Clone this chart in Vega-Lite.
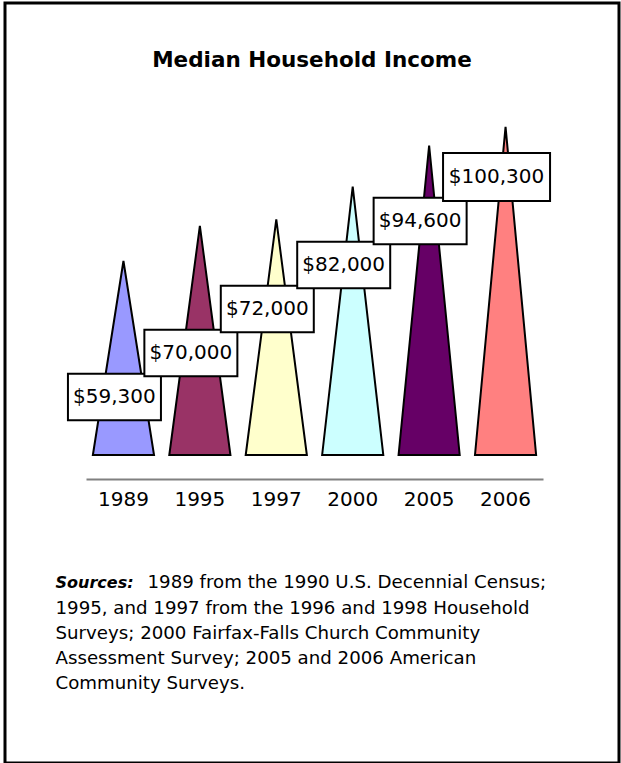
{
  "$schema": "https://vega.github.io/schema/vega-lite/v6.json",
  "width": 614,
  "height": 760,
  "autosize": "none",
  "padding": {"left": 5, "top": 3, "right": 2, "bottom": 0},
  "background": "white",
  "config": {"view": {"stroke": "black", "strokeWidth": 3}, "font": "DejaVu Sans"},
  "title": {"text": "Median Household Income", "font": "DejaVu Sans", "fontSize": 21.5, "fontWeight": "bold", "color": "black", "anchor": "middle", "frame": "group", "baseline": "alphabetic", "offset": -85},
  "data": {"values": [
    {"year": "1989", "income": 59300},
    {"year": "1995", "income": 70000},
    {"year": "1997", "income": 72000},
    {"year": "2000", "income": 82000},
    {"year": "2005", "income": 94600},
    {"year": "2006", "income": 100300}
  ]},
  "resolve": {"scale": {"y": "independent"}, "axis": {"x": "independent", "y": "independent"}},
  "layer": [
    {
      "transform": [
        {"fold": ["income"], "as": ["part", "amount"]},
        {"impute": "amount", "key": "part", "keyvals": ["base", "income", "rim"], "groupby": ["year"], "value": 0}
      ],
      "mark": {"type": "line", "interpolate": "linear-closed", "stroke": "black", "strokeWidth": 2, "strokeJoin": "miter", "opacity": 1},
      "encoding": {
        "x": {"field": "year", "type": "nominal", "bandPosition": 0,
          "scale": {"type": "band", "range": [81, 538], "paddingInner": 0.2, "paddingOuter": 0.09},
          "axis": {"title": ["1995, and 1997 from the 1996 and 1998 Household", "Surveys; 2000 Fairfax-Falls Church Community", "Assessment Survey; 2005 and 2006 American", "Community Surveys."],
            "titleFont": "DejaVu Sans", "titleFontSize": 18.2, "titleFontWeight": "normal", "titleColor": "black", "titleAnchor": "start", "titleAlign": "left", "titleBaseline": "alphabetic", "titleX": 50, "titleY": 134, "titleLineHeight": 25,
            "orient": "bottom", "offset": -284, "domainColor": "#808080", "domainWidth": 2, "ticks": false, "grid": false,
            "labelFont": "DejaVu Sans", "labelFontSize": 20, "labelColor": "black", "labelPadding": 10, "labelAngle": 0}},
        "xOffset": {"field": "part", "type": "nominal", "scale": {"type": "point", "domain": ["base", "income", "rim"], "padding": 0}},
        "y": {"field": "amount", "type": "quantitative", "scale": {"domain": [0, 103000], "range": [452, 115], "nice": false},
          "axis": {"title": "Sources:", "titleFont": "DejaVu Sans", "titleFontSize": 16, "titleFontWeight": "bold", "titleFontStyle": "italic", "titleColor": "black", "titleAngle": 0, "titleAlign": "left", "titleBaseline": "alphabetic", "titleX": 0, "titleY": 584, "offset": -50, "labels": false, "ticks": false, "domain": false, "grid": false}},
        "fill": {"field": "year", "type": "nominal", "scale": {"domain": ["1989", "1995", "1997", "2000", "2005", "2006"], "range": ["#9999ff", "#993366", "#ffffcc", "#ccffff", "#660066", "#ff8080"]}, "legend": null},
        "order": {"field": "part", "type": "ordinal", "sort": "ascending"}
      }
    },
    {
      "mark": {"type": "point", "filled": true, "fill": "white", "stroke": "black", "strokeWidth": 2, "opacity": 1, "xOffset": -9},
      "encoding": {
        "x": {"field": "year", "type": "nominal",
          "scale": {"type": "band", "range": [81, 538], "paddingInner": 0.2, "paddingOuter": 0.09},
          "axis": null},
        "y": {"field": "year", "type": "ordinal", "scale": {"type": "point", "range": [394, 174], "padding": 0}, "axis": null},
        "shape": {"condition": {"test": "datum.income >= 100000", "value": "M-1,-0.45H1V0.45H-1Z"}, "value": "M-1,-0.5H1V0.5H-1Z"},
        "size": {"condition": {"test": "datum.income >= 100000", "value": 11449}, "value": 8649}
      }
    },
    {
      "mark": {"type": "text", "fontSize": 20, "font": "DejaVu Sans", "color": "black", "xOffset": -9, "baseline": "middle", "align": "center"},
      "encoding": {
        "x": {"field": "year", "type": "nominal",
          "scale": {"type": "band", "range": [81, 538], "paddingInner": 0.2, "paddingOuter": 0.09},
          "axis": {"title": "1989 from the 1990 U.S. Decennial Census;",
            "titleFont": "DejaVu Sans", "titleFontSize": 18.2, "titleFontWeight": "normal", "titleColor": "black", "titleAnchor": "start", "titleAlign": "left", "titleBaseline": "alphabetic", "titleX": 142, "titleY": 108,
            "orient": "bottom", "offset": -284, "domain": false, "ticks": false, "labels": false, "grid": false}},
        "y": {"field": "year", "type": "ordinal", "scale": {"type": "point", "range": [394, 174], "padding": 0}, "axis": null},
        "text": {"field": "income", "type": "quantitative", "format": "$,.0f"}
      }
    }
  ]
}
